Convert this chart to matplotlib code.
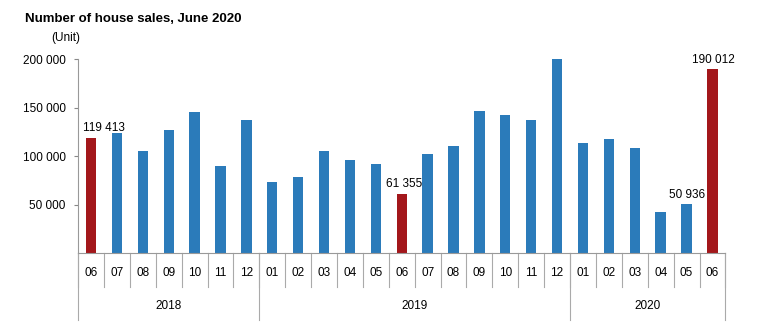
"""Bar chart of monthly house sales, June 2018 - June 2020."""

import matplotlib
matplotlib.use('Agg')
import matplotlib.pyplot as plt
import matplotlib.transforms as mtransforms
import numpy as np

plt.rcParams['font.family'] = ['Liberation Sans', 'DejaVu Sans']

# data
months = ['06', '07', '08', '09', '10', '11', '12',
          '01', '02', '03', '04', '05', '06', '07', '08', '09', '10', '11', '12',
          '01', '02', '03', '04', '05', '06']
years = ['2018', '2019', '2020']
year_counts = [7, 12, 6]
sales = [119413, 123700, 105500, 127400, 145700, 89700, 137100,
         73500, 79000, 105500, 96500, 92000, 61355, 102000, 110600, 146700, 142300, 137700, 200179,
         113600, 118200, 108600, 42700, 50936, 190012]
highlight = [0, 12, 24]          # June bars drawn in red
labelled = [0, 12, 23, 24]       # bars with value labels
label_shift = [0.48, 0.08, 0.0, 0.05]  # label x offsets in categories

blue = '#2b7bba'
red = '#a3171b'

fig = plt.figure(figsize=(7.58, 3.32), dpi=100)
ax = fig.add_axes([0.103, 0.237, 0.854, 0.584])

x = np.arange(len(sales))
colors = [red if i in highlight else blue for i in x]
ax.bar(x, sales, width=0.4, color=colors, clip_on=False)

for i, dx in zip(labelled, label_shift):
    txt = '{:,}'.format(sales[i]).replace(',', ' ')
    ax.text(x[i] + dx, sales[i] + 3500, txt, ha='center', va='bottom', fontsize=8.5)

ax.set_xlim(-0.5, len(sales) - 0.5)
ax.set_ylim(0, 200000)
ax.set_yticks([50000, 100000, 150000, 200000])
ax.set_yticklabels(['50 000', '100 000', '150 000', '200 000'], fontsize=8.5)
ax.set_xticks([])
ax.tick_params(axis='y', length=3, color='#888888', pad=6)

for s in ['top', 'right']:
    ax.spines[s].set_visible(False)
ax.spines['left'].set_color('#999999')
ax.spines['bottom'].set_color('#999999')

# category axis with months and years below
trans = mtransforms.blended_transform_factory(ax.transData, ax.transAxes)
for b in np.arange(len(sales) + 1) - 0.5:
    ax.plot([b, b], [0, -0.172], transform=trans, color='#aaaaaa', lw=0.8, clip_on=False)
for i, m in enumerate(months):
    ax.text(i, -0.1, m, transform=trans, ha='center', va='center', fontsize=8.5)

start = 0
bounds = [-0.5]
for yr, n in zip(years, year_counts):
    ax.text(start + (n - 1) / 2, -0.27, yr, transform=trans, ha='center', va='center', fontsize=8.5)
    start += n
    bounds.append(start - 0.5)
for b in bounds:
    ax.plot([b, b], [0, -0.344], transform=trans, color='#aaaaaa', lw=0.8, clip_on=False)

fig.text(0.033, 0.943, 'Number of house sales, June 2020', fontsize=9.5, fontweight='bold', va='center')
fig.text(0.068, 0.885, '(Unit)', fontsize=8.5, va='center')

fig.savefig('out.png', dpi=100)
